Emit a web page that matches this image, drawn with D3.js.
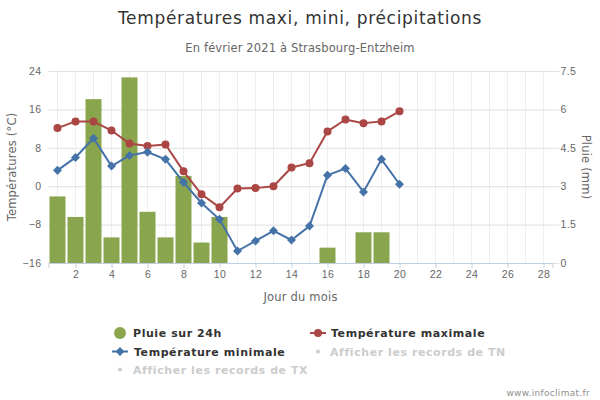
<!DOCTYPE html>
<html>
<head>
<meta charset="utf-8">
<script src="https://cdn.jsdelivr.net/npm/d3@7"></script>
<style>
  body { margin: 0; background: #fff; }
  svg { display: block; font-family: "DejaVu Sans", sans-serif; }
  .tick text { font-size: 10.5px; fill: #666; letter-spacing: 0.4px; }
  .axis-label { font-size: 11.5px; fill: #666; letter-spacing: 0.2px; }
  .legend-on { font-size: 11px; font-weight: bold; fill: #333; letter-spacing: 0.57px; }
  .legend-off { font-size: 11px; font-weight: bold; fill: #ccc; letter-spacing: 0.57px; }
</style>
</head>
<body>
<svg width="600" height="400"></svg>
<script>
const days = d3.range(1, 21);
const rain = [2.6, 1.8, 6.4, 1.0, 7.25, 2.0, 1.0, 3.4, 0.8, 1.8, 0, 0, 0, 0, 0, 0.6, 0, 1.2, 1.2, 0];
const tempMax = [12.1, 13.5, 13.5, 11.6, 8.9, 8.4, 8.7, 3.1, -1.7, -4.4, -0.5, -0.4, 0, 3.9, 4.8, 11.4, 13.9, 13.1, 13.5, 15.6];
const tempMin = [3.3, 6.0, 10.0, 4.2, 6.4, 7.1, 5.6, 0.8, -3.5, -6.9, -13.5, -11.4, -9.3, -11.2, -8.3, 2.3, 3.7, -1.2, 5.6, 0.4];
const dayTicks = d3.range(2, 29, 2);
const tempTicks = [-16, -8, 0, 8, 16, 24];
const rainTicks = [0, 1.5, 3, 4.5, 6, 7.5];

const rainColor = '#89a54e';
const maxColor = '#aa4643';
const minColor = '#4572a7';

const svg = d3.select('svg');
const margin = { top: 71, right: 47.5, bottom: 137, left: 48.5 };
const innerWidth = 600 - margin.left - margin.right;
const innerHeight = 400 - margin.top - margin.bottom;

const xScale = d3.scaleLinear().domain([0.5, 28.5]).range([0, innerWidth]);
const yTemp = d3.scaleLinear().domain([-16, 24]).range([innerHeight, 0]);
const yRain = d3.scaleLinear().domain([0, 7.5]).range([innerHeight, 0]);

const g = svg.append('g').attr('transform', `translate(${margin.left},${margin.top})`);

// vertical grid, one line per day
g.append('g').selectAll('line').data(d3.range(1, 29))
  .enter().append('line')
    .attr('x1', d => xScale(d)).attr('x2', d => xScale(d))
    .attr('y1', 0).attr('y2', innerHeight)
    .attr('stroke', '#eeeeee');

const yAxisG = g.append('g').call(d3.axisLeft(yTemp).tickValues(tempTicks).tickSize(-innerWidth).tickPadding(7).tickFormat(d => String(d).replace('-', '\u2212')));
yAxisG.select('.domain').remove();
yAxisG.selectAll('.tick line').attr('stroke', '#e0e0e0');

const yRightG = g.append('g').attr('transform', `translate(${innerWidth},0)`)
  .call(d3.axisRight(yRain).tickValues(rainTicks).tickSize(7).tickPadding(1).tickFormat(d => String(d)));
yRightG.select('.domain').remove();
yRightG.selectAll('.tick line').attr('stroke', '#e0e0e0');

g.selectAll('.bar').data(days)
  .enter().append('rect')
    .attr('class', 'bar')
    .attr('x', d => xScale(d) - 8)
    .attr('width', 16)
    .attr('y', (d, i) => yRain(rain[i]))
    .attr('height', (d, i) => innerHeight - yRain(rain[i]))
    .attr('fill', rainColor);

const xAxisG = g.append('g').attr('transform', `translate(0,${innerHeight})`)
  .call(d3.axisBottom(xScale).tickValues(dayTicks).tickSize(5).tickPadding(3));
xAxisG.select('.domain').attr('stroke', '#c0d0e0');
xAxisG.selectAll('.tick line').attr('stroke', '#c0d0e0');

const addLine = (values, color) => {
  const line = d3.line().x((d, i) => xScale(days[i])).y(d => yTemp(d));
  g.append('path').datum(values)
    .attr('fill', 'none').attr('stroke', color).attr('stroke-width', 2)
    .attr('d', line);
};
addLine(tempMax, maxColor);
addLine(tempMin, minColor);

g.selectAll('.pt-max').data(tempMax)
  .enter().append('circle')
    .attr('cx', (d, i) => xScale(days[i]))
    .attr('cy', d => yTemp(d))
    .attr('r', 4)
    .attr('fill', maxColor);

const diamond = d3.symbol().type(d3.symbolDiamond2).size(52);
g.selectAll('.pt-min').data(tempMin)
  .enter().append('path')
    .attr('d', diamond)
    .attr('transform', (d, i) => `translate(${xScale(days[i])},${yTemp(d)})`)
    .attr('fill', minColor);

// titles
svg.append('text').attr('x', 300).attr('y', 24).attr('text-anchor', 'middle')
  .style('font-size', '17px').style('letter-spacing', '0.67px').attr('fill', '#333')
  .text('Températures maxi, mini, précipitations');
svg.append('text').attr('x', 300).attr('y', 52).attr('text-anchor', 'middle')
  .style('font-size', '11.5px').style('letter-spacing', '0.14px').attr('fill', '#666')
  .text('En février 2021 à Strasbourg-Entzheim');

svg.append('text').attr('class', 'axis-label')
  .attr('transform', `translate(16,${margin.top + innerHeight / 2}) rotate(-90)`)
  .attr('text-anchor', 'middle').text('Températures (°C)');
svg.append('text').attr('class', 'axis-label')
  .attr('transform', `translate(582,${margin.top + innerHeight / 2}) rotate(90)`)
  .attr('text-anchor', 'middle').text('Pluie (mm)');
svg.append('text').attr('class', 'axis-label')
  .attr('x', margin.left + innerWidth / 2).attr('y', 301).attr('text-anchor', 'middle')
  .text('Jour du mois');

// legend
svg.append('circle').attr('cx', 120).attr('cy', 333).attr('r', 6).attr('fill', rainColor);
svg.append('text').attr('class', 'legend-on').attr('x', 133).attr('y', 337).text('Pluie sur 24h');

svg.append('line').attr('x1', 310).attr('x2', 326).attr('y1', 333).attr('y2', 333).attr('stroke', maxColor).attr('stroke-width', 2);
svg.append('circle').attr('cx', 318).attr('cy', 333).attr('r', 4).attr('fill', maxColor);
svg.append('text').attr('class', 'legend-on').attr('x', 331).attr('y', 337).text('Température maximale');

svg.append('line').attr('x1', 112).attr('x2', 128).attr('y1', 351.5).attr('y2', 351.5).attr('stroke', minColor).attr('stroke-width', 2);
svg.append('path').attr('d', diamond).attr('transform', 'translate(120,351.5)').attr('fill', minColor);
svg.append('text').attr('class', 'legend-on').attr('x', 134).attr('y', 355.5).text('Température minimale');

svg.append('circle').attr('cx', 318).attr('cy', 351.5).attr('r', 2).attr('fill', '#ccc');
svg.append('text').attr('class', 'legend-off').attr('x', 330).attr('y', 355.5).text('Afficher les records de TN');

svg.append('circle').attr('cx', 120).attr('cy', 369.5).attr('r', 2).attr('fill', '#ccc');
svg.append('text').attr('class', 'legend-off').attr('x', 133).attr('y', 373.5).text('Afficher les records de TX');

svg.append('text').attr('x', 590).attr('y', 396).attr('text-anchor', 'end')
  .style('font-size', '9px').style('letter-spacing', '0.3px').attr('fill', '#909090')
  .text('www.infoclimat.fr');
</script>
</body>
</html>
